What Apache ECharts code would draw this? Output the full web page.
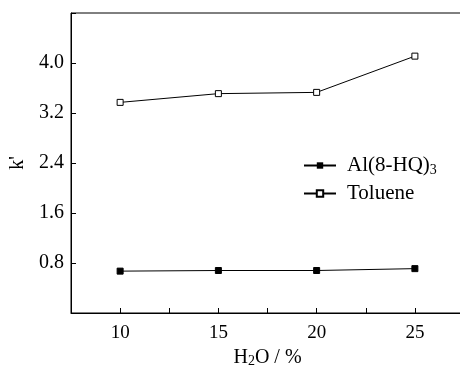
<!DOCTYPE html>
<html>
<head>
<meta charset="utf-8">
<script src="https://cdn.jsdelivr.net/npm/echarts@6/dist/echarts.min.js"></script>
<style>
  html, body { margin: 0; padding: 0; background: #fff; }
  #chart { width: 460px; height: 369px; }
</style>
</head>
<body>
<div id="chart"></div>
<script>
// data
const waterPct = [10, 15, 20, 25]
const alq3 = [0.67, 0.68, 0.68, 0.71]
const toluene = [3.37, 3.51, 3.53, 4.11]
const seriesNames = ['Al(8-HQ)3', 'Toluene']

const font = '"Liberation Serif", "Times New Roman", serif'

const chart = echarts.init(document.getElementById('chart'))

const option = {
  animation: false,
  backgroundColor: '#fff',
  grid: {
    left: 71,
    top: 13,
    width: 393,
    height: 300,
    outerBoundsMode: 'none',
    containLabel: false,
    show: true,
    borderColor: '#000',
    borderWidth: 1
  },
  legend: {
    data: seriesNames,
    orient: 'vertical',
    left: 298,
    top: 150,
    itemWidth: 32,
    itemHeight: 8,
    itemGap: 6,
    formatter: function(name) {
      if (name === 'Al(8-HQ)3') return '{a|Al(8-HQ)}{s|3}'
      return '{a|' + name + '}'
    },
    textStyle: {
      fontFamily: font,
      color: '#000',
      padding: [0, 0, 0, 6],
      rich: {
        a: { fontFamily: font, fontSize: 21, color: '#000' },
        s: { fontFamily: font, fontSize: 14, color: '#000', padding: [9, 0, 0, 0] }
      }
    }
  },
  xAxis: {
    type: 'value',
    min: 7.5,
    max: 27.5,
    interval: 2.5,
    name: '{a|H}{s|2}{a|O / %}',
    nameLocation: 'middle',
    nameGap: 33,
    nameTextStyle: {
      rich: {
        a: { fontFamily: font, fontSize: 20, color: '#000' },
        s: { fontFamily: font, fontSize: 14, color: '#000', padding: [6, 0, 0, 0] }
      }
    },
    axisLine: { lineStyle: { color: '#000', width: 1 } },
    axisTick: { inside: true, length: 5, lineStyle: { color: '#000' } },
    axisLabel: {
      color: '#000',
      fontFamily: font,
      fontSize: 19,
      margin: 11,
      formatter: function(v) {
        return v % 5 === 0 ? String(v) : ''
      }
    },
    splitLine: { show: false }
  },
  yAxis: {
    type: 'value',
    min: 0,
    max: 4.8,
    interval: 0.8,
    name: "k'",
    nameLocation: 'middle',
    nameRotate: 90,
    nameGap: 43,
    nameTextStyle: { fontFamily: font, fontSize: 20, color: '#000' },
    axisLine: { lineStyle: { color: '#000', width: 1 } },
    axisTick: { inside: true, length: 5, lineStyle: { color: '#000' } },
    axisLabel: {
      color: '#000',
      fontFamily: font,
      fontSize: 20,
      margin: 7,
      formatter: function(v) {
        if (v === 0 || v > 4.5) return ''
        return v.toFixed(1)
      }
    },
    splitLine: { show: false }
  },
  series: [
    {
      name: seriesNames[0],
      type: 'line',
      data: waterPct.map((x, i) => [x, alq3[i]]),
      symbol: 'rect',
      symbolSize: 6,
      itemStyle: { color: '#000', borderColor: '#000' },
      lineStyle: { color: '#000', width: 1 }
    },
    {
      name: seriesNames[1],
      type: 'line',
      data: waterPct.map((x, i) => [x, toluene[i]]),
      symbol: 'rect',
      symbolSize: 6,
      itemStyle: { color: '#fff', borderColor: '#000', borderWidth: 1 },
      lineStyle: { color: '#000', width: 1 }
    }
  ]
}

chart.setOption(option)
</script>
</body>
</html>
